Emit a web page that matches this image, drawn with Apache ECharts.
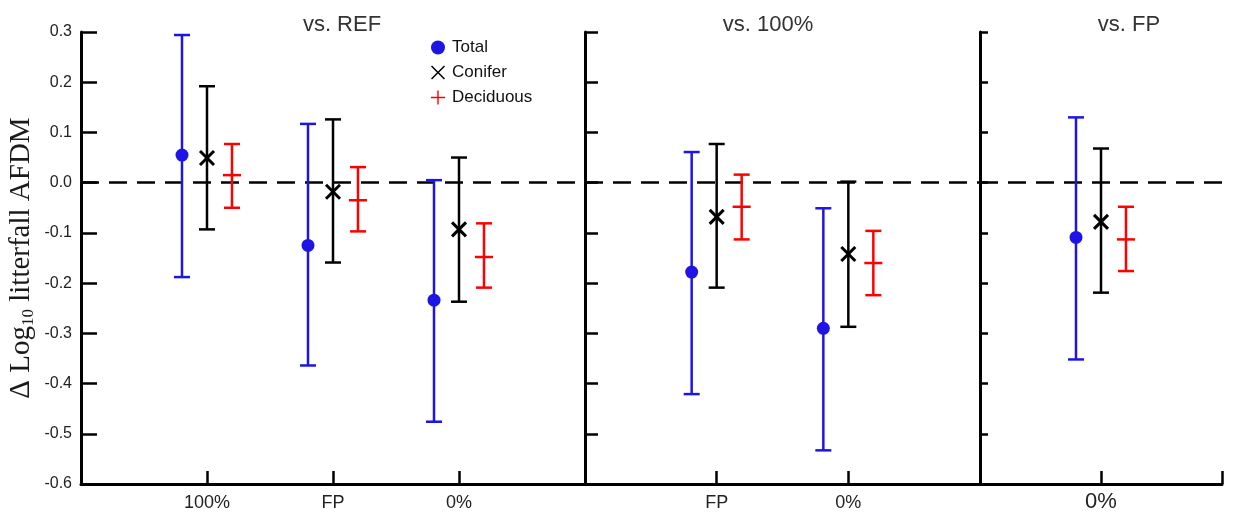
<!DOCTYPE html>
<html>
<head>
<meta charset="utf-8">
<script src="https://cdn.jsdelivr.net/npm/echarts@6/dist/echarts.min.js"></script>
<style>html,body{margin:0;padding:0;background:#fff}#c{width:1241px;height:516px}</style>
</head>
<body>
<div id="c"></div>
<script>
// ---- data ----
const panelTitles = ['vs. REF', 'vs. 100%', 'vs. FP'];
const panel1Cats = ['', '100%', 'FP', '0%', ''];
const panel2Cats = ['', 'FP', '0%', ''];
const panel3Cats = ['', '0%', ''];
const yTicks = [0.3, 0.2, 0.1, 0.0, -0.1, -0.2, -0.3, -0.4, -0.5, -0.6];
// each group: panel index and category position within the panel
const groupPanel = [0, 0, 0, 1, 1, 2];
const groupCat   = [1, 2, 3, 1, 2, 1];
const totalMean  = [0.055, -0.125, -0.234, -0.178, -0.290, -0.109];
const totalLow   = [-0.188, -0.364, -0.476, -0.421, -0.533, -0.352];
const totalHigh  = [0.294, 0.117, 0.005, 0.061, -0.051, 0.130];
const coniferMean = [0.049, -0.018, -0.093, -0.068, -0.142, -0.078];
const coniferLow  = [-0.093, -0.159, -0.237, -0.209, -0.287, -0.219];
const coniferHigh = [0.192, 0.126, 0.050, 0.077, 0.002, 0.068];
const decidMean = [0.015, -0.035, -0.148, -0.048, -0.160, -0.113];
const decidLow  = [-0.050, -0.097, -0.209, -0.113, -0.224, -0.176];
const decidHigh = [0.077, 0.031, -0.081, 0.016, -0.096, -0.048];

// ---- chart ----
const BLUE = '#1e14e6', BLACK = '#000000', RED = '#ff0000';
const chart = echarts.init(document.getElementById('c'));

function rows(mean, low, high, panel) {
  const out = [];
  for (let i = 0; i < mean.length; i++) {
    if (groupPanel[i] === panel) out.push([groupCat[i], mean[i], low[i], high[i]]);
  }
  return out;
}

function makeRender(kind, color, offset) {
  return function (params, api) {
    const x = api.value(0);
    const pm = api.coord([x, api.value(1)]);
    const pl = api.coord([x, api.value(2)]);
    const ph = api.coord([x, api.value(3)]);
    const cx = pm[0] + offset;
    const lw = 2.5, cap = 8;
    const st = { stroke: color, lineWidth: lw };
    const ch = [
      { type: 'line', shape: { x1: cx, y1: ph[1], x2: cx, y2: pl[1] }, style: st },
      { type: 'line', shape: { x1: cx - cap, y1: ph[1], x2: cx + cap, y2: ph[1] }, style: st },
      { type: 'line', shape: { x1: cx - cap, y1: pl[1], x2: cx + cap, y2: pl[1] }, style: st }
    ];
    if (kind === 'total') {
      ch.push({ type: 'circle', shape: { cx: cx, cy: pm[1], r: 6.5 }, style: { fill: color } });
    } else if (kind === 'conifer') {
      const s = 7, xs = { stroke: color, lineWidth: 3 };
      ch.push({ type: 'line', shape: { x1: cx - s, y1: pm[1] - s, x2: cx + s, y2: pm[1] + s }, style: xs });
      ch.push({ type: 'line', shape: { x1: cx - s, y1: pm[1] + s, x2: cx + s, y2: pm[1] - s }, style: xs });
    } else {
      ch.push({ type: 'line', shape: { x1: cx - 9, y1: pm[1], x2: cx + 9, y2: pm[1] }, style: st });
    }
    return { type: 'group', children: ch };
  };
}

const grids = [
  { left: 81, width: 504, top: 32, bottom: 32 },
  { left: 585, width: 395, top: 32, bottom: 32 },
  { left: 980, width: 242, top: 32, bottom: 32 }
];
const catsList = [panel1Cats, panel2Cats, panel3Cats];
const axisLineStyle = { color: '#000', width: 3 };

const xAxis = catsList.map((cats, i) => ({
  type: 'category', gridIndex: i, data: cats, boundaryGap: false,
  axisLine: { onZero: false, lineStyle: axisLineStyle },
  axisTick: { inside: true, length: 13, interval: 0, lineStyle: { color: '#000', width: 2.5 } },
  axisLabel: { interval: 0, color: '#222', fontFamily: 'Liberation Sans, Arial', fontSize: i === 2 ? 22 : 18, margin: i === 2 ? 7 : 10 }
}));

const yAxis = [0, 1, 2].map(i => ({
  type: 'value', gridIndex: i, min: -0.6, max: 0.3, interval: 0.1,
  axisLine: { show: true, onZero: false, lineStyle: axisLineStyle },
  axisTick: { show: true, inside: true, length: i === 0 ? 16 : (i === 1 ? 13 : 8), lineStyle: { color: '#000', width: 2.5 } },
  splitLine: { show: false },
  axisLabel: {
    show: i === 0, color: '#222', fontFamily: 'Liberation Sans, Arial', fontSize: 16, margin: 9,
    formatter: v => { const t = yTicks.find(k => Math.abs(k - v) < 1e-9); return (t !== undefined ? t : v).toFixed(1); }
  },
  name: i === 0 ? '{a|\u0394 Log}{s|10}{a| litterfall AFDM}' : '',
  nameLocation: 'middle', nameGap: 44, nameRotate: 90,
  nameTextStyle: {
    rich: {
      a: { fontFamily: 'Liberation Serif, Times New Roman', fontSize: 29, color: '#1a1a1a' },
      s: { fontFamily: 'Liberation Serif, Times New Roman', fontSize: 17, color: '#1a1a1a', padding: [14, 0, 0, 0] }
    }
  }
}));

const series = [];
for (let p = 0; p < 3; p++) {
  series.push({
    name: 'Total', type: 'custom', xAxisIndex: p, yAxisIndex: p, itemStyle: { color: BLUE },
    renderItem: makeRender('total', BLUE, -25), data: rows(totalMean, totalLow, totalHigh, p), z: 3,
    markLine: {
      silent: true, symbol: ['none', 'none'], label: { show: false }, z: 1,
      lineStyle: { color: '#000', width: 2.5, type: [18, 10] },
      data: [{ yAxis: 0 }]
    }
  });
  series.push({
    name: 'Conifer', type: 'custom', xAxisIndex: p, yAxisIndex: p, itemStyle: { color: BLACK },
    renderItem: makeRender('conifer', BLACK, 0), data: rows(coniferMean, coniferLow, coniferHigh, p), z: 3
  });
  series.push({
    name: 'Deciduous', type: 'custom', xAxisIndex: p, yAxisIndex: p, itemStyle: { color: RED },
    renderItem: makeRender('decid', RED, 25), data: rows(decidMean, decidLow, decidHigh, p), z: 3
  });
}

const titleCenters = [337, 763, 1124];
chart.setOption({
  animation: false,
  backgroundColor: '#fff',
  title: panelTitles.map((t, i) => ({
    text: t, left: titleCenters[i], top: 9, textAlign: 'center',
    textStyle: { fontFamily: 'Liberation Sans, Arial', fontSize: 22, fontWeight: 'normal', color: '#333' }
  })),
  legend: {
    orient: 'vertical', left: 426, top: 34, itemGap: 8, itemWidth: 14, itemHeight: 14,
    selectedMode: false,
    textStyle: { fontFamily: 'Liberation Sans, Arial', fontSize: 17, color: '#111', padding: [0, 0, 0, 2] },
    data: [
      { name: 'Total', icon: 'circle' },
      { name: 'Conifer', icon: 'path://M0,1.5 L1.5,0 L10,8.5 L18.5,0 L20,1.5 L11.5,10 L20,18.5 L18.5,20 L10,11.5 L1.5,20 L0,18.5 L8.5,10 Z' },
      { name: 'Deciduous', icon: 'path://M9,0 L11,0 L11,9 L20,9 L20,11 L11,11 L11,20 L9,20 L9,11 L0,11 L0,9 L9,9 Z' }
    ]
  },
  grid: grids,
  xAxis: xAxis,
  yAxis: yAxis,
  series: series
});
</script>
</body>
</html>
